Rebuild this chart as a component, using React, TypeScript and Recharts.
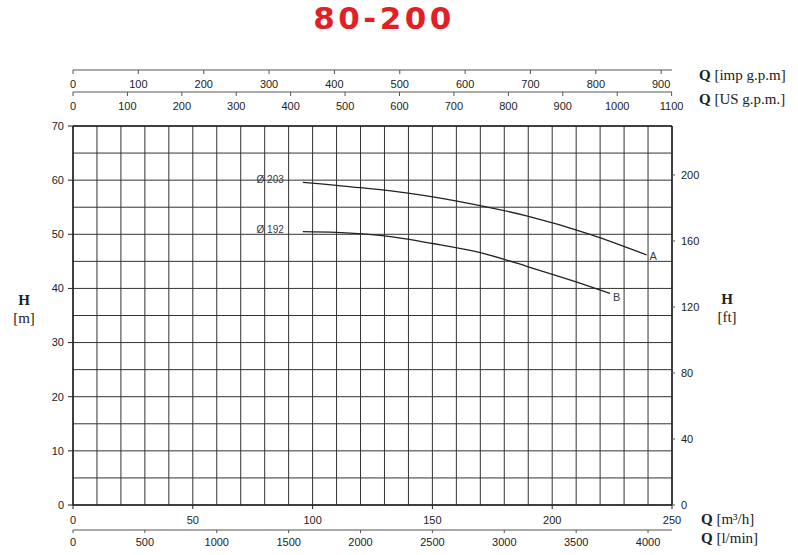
import { LineChart, Line, XAxis, YAxis, CartesianGrid } from "recharts";

// pump curves (Q in m3/h, H in m)
const curveAQ = [95.9, 119.8, 139.8, 169.9, 189.3, 215.8, 239.4];
const curveAH = [59.6, 58.6, 57.6, 55.3, 53.4, 50.0, 46.2];
const curveBQ = [95.9, 110, 130, 150, 170, 190, 210, 224.1];
const curveBH = [50.5, 50.35, 49.7, 48.3, 46.6, 44.0, 41.2, 39.1];

const curveNames = ["Ø 203", "Ø 192"];
const curveTags = ["A", "B"];

// axis ticks
const m3hTicks = [0, 50, 100, 150, 200, 250];
const lminTicks = [0, 500, 1000, 1500, 2000, 2500, 3000, 3500, 4000];
const usTicks = [0, 100, 200, 300, 400, 500, 600, 700, 800, 900, 1000, 1100];
const impTicks = [0, 100, 200, 300, 400, 500, 600, 700, 800, 900];
const mTicks = [0, 10, 20, 30, 40, 50, 60, 70];
const ftTicks = [0, 40, 80, 120, 160, 200];
const gridQ = [0, 10, 20, 30, 40, 50, 60, 70, 80, 90, 100, 110, 120, 130, 140, 150, 160, 170, 180, 190, 200, 210, 220, 230, 240, 250];
const gridH = [0, 5, 10, 15, 20, 25, 30, 35, 40, 45, 50, 55, 60, 65, 70];

const Q_MAX = 250;
const H_MAX = 70;
const LMIN_MAX = (Q_MAX * 1000) / 60;
const US_MAX = LMIN_MAX / 3.78541;
const IMP_MAX = LMIN_MAX / 4.54609;
const FT_MAX = H_MAX / 0.3048;

const dataA = curveAQ.map((q, i) => ({ q, h: curveAH[i] }));
const dataB = curveBQ.map((q, i) => ({ q, h: curveBH[i] }));
// invisible carriers so the extra x scales get their ticks
const carrier = (vals: number[]) => vals.map((q) => ({ q, h: 0 }));

const SANS = "Liberation Sans, Arial, sans-serif";
const SERIF = "Liberation Serif, Times New Roman, serif";
const tickStyle = { fontSize: 11, fill: "#222", fontFamily: SANS };
const GRID = "#333";

// top scales have their ticks and labels hanging below the line
const TopTick = (props: any) => {
  const { x, y, payload } = props;
  return (
    <g>
      <line x1={x} y1={y} x2={x} y2={y + 4} stroke="#555" />
      <text x={x} y={y + 18} textAnchor="middle" fontSize={11} fill="#222" fontFamily={SANS}>
        {payload.value}
      </text>
    </g>
  );
};

const endLabels = (idx: number, last: number, tagDy: number) => (p: any) => {
  if (p.index === 0) {
    return (
      <text x={p.x - 19} y={p.y + 1} textAnchor="end" fontSize={10} fill="#333a4d" fontFamily={SANS}>
        {curveNames[idx]}
      </text>
    );
  }
  if (p.index === last) {
    return (
      <text x={p.x + 3} y={p.y + tagDy} fontSize={11} fill="#333a4d" fontFamily={SANS}>
        {curveTags[idx]}
      </text>
    );
  }
  return <g />;
};

const hidden = { stroke: "none", dot: false, activeDot: false, isAnimationActive: false, yAxisId: "m", dataKey: "h" } as const;

export default function App() {
  return (
    <div style={{ position: "absolute", left: 0, top: 0, width: 798, height: 555, background: "#fff" }}>
      <LineChart width={798} height={555} margin={{ top: 48, right: 0, bottom: 0, left: 0 }}>
        {/* top: spacer (draws the frame top), US gpm, imp gpm */}
        <XAxis xAxisId="t1Frame" dataKey="q" orientation="top" type="number" domain={[0, Q_MAX]} allowDataOverflow height={34} tick={false} tickLine={false} axisLine={{ stroke: "#222", strokeWidth: 1.5 }} />
        <XAxis xAxisId="t2Us" dataKey="q" orientation="top" type="number" domain={[0, US_MAX]} allowDataOverflow ticks={usTicks} interval={0} height={22} tickSize={0} tickMargin={0} tickLine={false} tick={<TopTick />} axisLine={{ stroke: "#555" }} />
        <XAxis xAxisId="t3Imp" dataKey="q" orientation="top" type="number" domain={[0, IMP_MAX]} allowDataOverflow ticks={impTicks} interval={0} height={22} tickSize={0} tickMargin={0} tickLine={false} tick={<TopTick />} axisLine={{ stroke: "#555" }} />
        {/* bottom: m3/h, l/min */}
        <XAxis xAxisId="b1M3h" dataKey="q" orientation="bottom" type="number" domain={[0, Q_MAX]} allowDataOverflow ticks={m3hTicks} interval={0} height={25} tickSize={4} tickMargin={7} tick={tickStyle} tickLine={{ stroke: "#222" }} axisLine={{ stroke: "#222", strokeWidth: 1.5 }} />
        <XAxis xAxisId="b2Lmin" dataKey="q" orientation="bottom" type="number" domain={[0, LMIN_MAX]} allowDataOverflow ticks={lminTicks} interval={0} height={25} tickSize={3} tickMargin={5} tick={tickStyle} tickLine={{ stroke: "#555" }} axisLine={{ stroke: "#555" }} />
        <YAxis yAxisId="m" orientation="left" type="number" domain={[0, H_MAX]} allowDataOverflow ticks={mTicks} interval={0} width={73} tickSize={5} tickMargin={4} tick={tickStyle} tickLine={{ stroke: "#222" }} axisLine={{ stroke: "#222", strokeWidth: 1.5 }} />
        <YAxis yAxisId="ft" orientation="right" type="number" domain={[0, FT_MAX]} allowDataOverflow ticks={ftTicks} interval={0} width={126} tickSize={3} tickMargin={6} tick={tickStyle} tickLine={{ stroke: "#555" }} axisLine={{ stroke: "#222", strokeWidth: 1.5 }} />
        {/* grid-only scales */}
        <XAxis xAxisId="zGridX" dataKey="q" hide type="number" domain={[0, Q_MAX]} allowDataOverflow ticks={gridQ} interval={0} height={0} />
        <YAxis yAxisId="zGridY" hide type="number" domain={[0, H_MAX]} allowDataOverflow ticks={gridH} interval={0} width={0} />
        <CartesianGrid xAxisId="zGridX" yAxisId="zGridY" stroke={GRID} strokeWidth={1} />
        <Line {...hidden} xAxisId="t1Frame" data={carrier(m3hTicks)} />
        <Line {...hidden} xAxisId="t2Us" data={carrier(usTicks)} />
        <Line {...hidden} xAxisId="t3Imp" data={carrier(impTicks)} />
        <Line {...hidden} xAxisId="b2Lmin" data={carrier(lminTicks)} />
        <Line {...hidden} xAxisId="zGridX" data={carrier(gridQ)} />
        <Line xAxisId="b1M3h" yAxisId="m" data={dataA} dataKey="h" type="monotone" stroke="#222" strokeWidth={1.3} dot={false} isAnimationActive={false} label={endLabels(0, dataA.length - 1, 5)} />
        <Line xAxisId="b1M3h" yAxisId="m" data={dataB} dataKey="h" type="monotone" stroke="#222" strokeWidth={1.3} dot={false} isAnimationActive={false} label={endLabels(1, dataB.length - 1, 8)} />
      </LineChart>
      <svg width={798} height={555} style={{ position: "absolute", left: 0, top: 0, pointerEvents: "none" }}>
        <text x={384} y={29} textAnchor="middle" fontSize={31} fontWeight="bold" letterSpacing={3.5} fill="#e31e24" fontFamily="DejaVu Sans, sans-serif">
          80-200
        </text>
        <g fontFamily={SERIF} fontSize={15} fill="#222">
          <text x={699} y={80}><tspan fontWeight="bold">Q</tspan> [imp g.p.m]</text>
          <text x={699} y={104}><tspan fontWeight="bold">Q</tspan> [US g.p.m.]</text>
          <text x={701} y={524}><tspan fontWeight="bold">Q</tspan> [m³/h]</text>
          <text x={701} y={543}><tspan fontWeight="bold">Q</tspan> [l/min]</text>
          <text x={24} y={305} textAnchor="middle" fontWeight="bold">H</text>
          <text x={24} y={323} textAnchor="middle">[m]</text>
          <text x={727} y={304} textAnchor="middle" fontWeight="bold">H</text>
          <text x={727} y={322} textAnchor="middle">[ft]</text>
        </g>
      </svg>
    </div>
  );
}
